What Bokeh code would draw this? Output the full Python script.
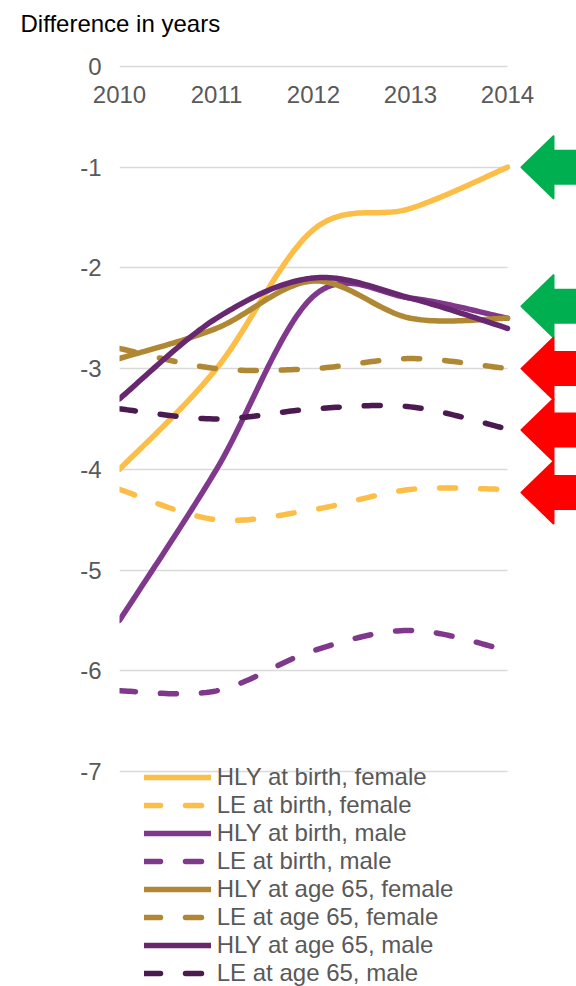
import numpy as np
from bokeh.plotting import figure
from bokeh.models import Range1d, FixedTicker, Legend, LegendItem, LinearAxis
from bokeh.embed import file_html
from bokeh.resources import INLINE

# ---------------- data ----------------
years = [2010, 2011, 2012, 2013, 2014]
hly_birth_female = [-4.0, -3.0, -1.62, -1.41, -1.0]
le_birth_female = [-4.2, -4.5, -4.4, -4.2, -4.2]
hly_birth_male = [-5.5, -4.0, -2.28, -2.3, -2.5]
le_birth_male = [-6.2, -6.2, -5.8, -5.6, -5.8]
hly_65_female = [-2.9, -2.6, -2.13, -2.5, -2.5]
le_65_female = [-2.8, -3.0, -3.0, -2.9, -3.0]
hly_65_male = [-3.3, -2.5, -2.1, -2.3, -2.6]
le_65_male = [-3.4, -3.5, -3.4, -3.38, -3.6]

series_names = ["HLY at birth, female", "LE at birth, female",
                "HLY at birth, male", "LE at birth, male",
                "HLY at age 65, female", "LE at age 65, female",
                "HLY at age 65, male", "LE at age 65, male"]
series_values = [hly_birth_female, le_birth_female, hly_birth_male, le_birth_male,
                 hly_65_female, le_65_female, hly_65_male, le_65_male]
y_ticks = [0, -1, -2, -3, -4, -5, -6, -7]
y_tick_labels = ["0", "-1", "-2", "-3", "-4", "-5", "-6", "-7"]

# arrows at the right edge (value level they point to, and their meaning)
arrow_y = [-1.0, -2.38, -3.0, -3.61, -4.23]
arrow_kind = ["better", "better", "worse", "worse", "worse"]

# ---------------- styles ----------------
colors = ["#FCBE46", "#FCBE46", "#80388C", "#80388C",
          "#B08834", "#B08834", "#682870", "#4A1A50"]
dashes = ["solid", "16 25"] * 4
arrow_colors = {"better": "#00B050", "worse": "#FF0000"}
FONT = "Liberation Sans"
GREY = "#595959"
FS = "24px"


def smooth(xs, ys, n=30):
    """Excel-like smoothed line (cubic Bezier through the points)."""
    xs = np.asarray(xs, float)
    ys = np.asarray(ys, float)
    px = np.concatenate([[xs[0]], xs, [xs[-1]]])
    py = np.concatenate([[ys[0]], ys, [ys[-1]]])
    t = np.linspace(0, 1, n, endpoint=False)
    ox, oy = [], []
    for i in range(len(xs) - 1):
        x0, x1, x2, x3 = px[i:i + 4]
        y0, y1, y2, y3 = py[i:i + 4]
        c1x, c1y = x1 + (x2 - x0) / 6, y1 + (y2 - y0) / 6
        c2x, c2y = x2 - (x3 - x1) / 6, y2 - (y3 - y1) / 6
        a = (1 - t) ** 3
        b = 3 * (1 - t) ** 2 * t
        c = 3 * (1 - t) * t ** 2
        d = t ** 3
        ox.extend(a * x1 + b * c1x + c * c2x + d * x2)
        oy.extend(a * y1 + b * c1y + c * c2y + d * y2)
    ox.append(xs[-1])
    oy.append(ys[-1])
    return ox, oy


# ---------------- figure ----------------
px_per_year = 97.0
px_per_unit = 100.7
frame_left, frame_top = 119, 64
frame_w = 576 - frame_left
frame_h = 986 - frame_top
zero_px = 66

p = figure(width=576, height=986, output_backend="svg", toolbar_location=None,
           x_axis_location="above",
           x_range=Range1d(2010, 2010 + frame_w / px_per_year),
           y_range=Range1d(-(986 - zero_px) / px_per_unit, (zero_px - frame_top) / px_per_unit),
           min_border_left=frame_left, min_border_right=0,
           min_border_top=frame_top, min_border_bottom=0)
p.outline_line_color = None
p.background_fill_color = "white"
p.border_fill_color = "white"

p.title.text = "Difference in years"
p.title.text_font = FONT
p.title.text_font_size = FS
p.title.text_font_style = "normal"
p.title.text_color = "#000000"
p.title.align = "left"
p.title.offset = -(frame_left - 20)

# x axis (labels sit just below the 0 line)
xa = p.xaxis[0]
xa.ticker = FixedTicker(ticks=years)
xa.axis_line_color = None
xa.major_tick_line_color = None
xa.minor_tick_line_color = None
xa.major_tick_in = 0
xa.major_tick_out = 0
xa.major_label_standoff = -38
xa.major_label_text_font = FONT
xa.major_label_text_font_size = FS
xa.major_label_text_color = GREY

# invisible spacer axis between the year labels and the title
spacer = LinearAxis(ticker=FixedTicker(ticks=[years[2]]), axis_line_color=None,
                    major_tick_line_color=None, minor_tick_line_color=None,
                    major_tick_in=0, major_tick_out=23, minor_tick_in=0,
                    minor_tick_out=0, major_label_standoff=0,
                    major_label_text_alpha=0, major_label_text_font_size="2px")
p.add_layout(spacer, "above")

ya = p.yaxis[0]
ya.ticker = FixedTicker(ticks=y_ticks)
ya.major_label_overrides = dict(zip(y_ticks, y_tick_labels))
ya.axis_line_color = None
ya.major_tick_line_color = None
ya.minor_tick_line_color = None
ya.major_tick_in = 0
ya.major_tick_out = 0
ya.major_label_standoff = 18
ya.major_label_text_font = FONT
ya.major_label_text_font_size = FS
ya.major_label_text_color = GREY

p.xgrid.visible = False
grid = p.ygrid[0]
grid.ticker = FixedTicker(ticks=y_ticks)
grid.grid_line_color = "#D9D9D9"
grid.grid_line_width = 1.5
if "cross_bounds" in grid.properties():
    grid.cross_bounds = (years[0], years[-1])
else:
    grid.visible = False
    p.segment(x0=[years[0]] * len(y_ticks), x1=[years[-1]] * len(y_ticks),
              y0=y_ticks, y1=y_ticks, line_color="#D9D9D9", line_width=1.5)

# lines
items = []
for name, vals, col, dash in zip(series_names, series_values, colors, dashes):
    sx, sy = smooth(years, vals)
    r = p.line(sx, sy, line_color=col, line_width=5.5, line_dash=dash,
               line_cap="round", line_join="round")
    items.append(LegendItem(label=name, renderers=[r]))

# arrows
tip_dx = 14 / px_per_year
head_dx = 46 / px_per_year
tail_dx = 90 / px_per_year
head_dy = 31 / px_per_unit
shaft_dy = 16.5 / px_per_unit
for ay, kind in zip(arrow_y, arrow_kind):
    x_tip = years[-1] + tip_dx
    x_head = years[-1] + head_dx
    x_tail = years[-1] + tail_dx
    xs = [x_tip, x_head, x_head, x_tail, x_tail, x_head, x_head]
    ys = [ay, ay + head_dy, ay + shaft_dy, ay + shaft_dy, ay - shaft_dy, ay - shaft_dy, ay - head_dy]
    col = arrow_colors[kind]
    p.patch(xs, ys, fill_color=col, line_color=col, line_width=2, line_join="round")

legend = Legend(items=items, location=(24.75, -1))
legend.label_text_font = FONT
legend.label_text_font_size = FS
legend.label_text_color = GREY
legend.glyph_width = 67
legend.glyph_height = 28
legend.label_height = 28
legend.spacing = 0
legend.padding = 0
legend.margin = 0
legend.label_standoff = 6
legend.background_fill_alpha = 0
legend.border_line_color = None
p.add_layout(legend)

open("out.html", "w").write(file_html(p, INLINE))
